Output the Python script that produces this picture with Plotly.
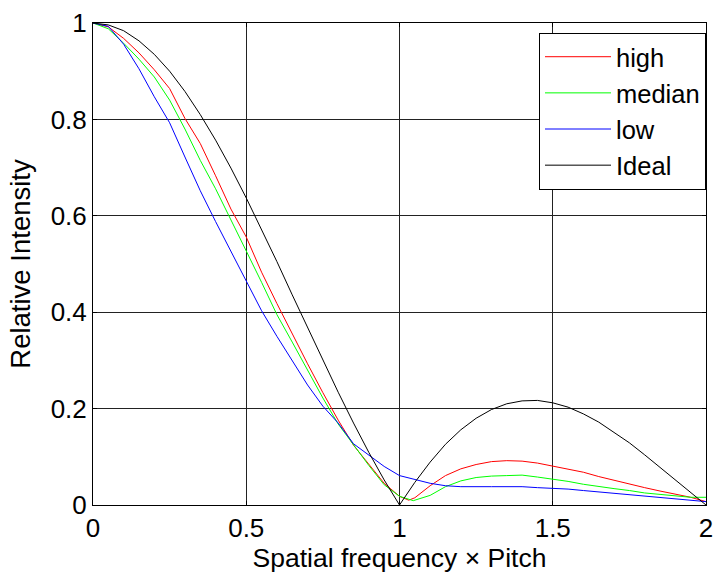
import plotly.graph_objects as go

# ---- data ----
x_high = [0, 0.05, 0.1, 0.15, 0.2, 0.25, 0.3, 0.35, 0.4, 0.45, 0.5, 0.55, 0.6, 0.65, 0.7, 0.75,
          0.8, 0.85, 0.9, 0.95, 1.0, 1.03, 1.05, 1.1, 1.15, 1.2, 1.25, 1.3, 1.35, 1.4, 1.45, 1.5,
          1.55, 1.6, 1.65, 1.7, 1.75, 1.8, 1.85, 1.9, 1.95, 2.0]
y_high = [1.0, 0.992, 0.968, 0.938, 0.903, 0.864, 0.802, 0.750, 0.683, 0.614, 0.556, 0.483, 0.418,
          0.355, 0.293, 0.233, 0.176, 0.124, 0.085, 0.045, 0.018, 0.010, 0.015, 0.040, 0.061,
          0.075, 0.084, 0.090, 0.092, 0.091, 0.087, 0.081, 0.075, 0.068, 0.059, 0.051, 0.044,
          0.036, 0.029, 0.022, 0.016, 0.007]

x_median = [0, 0.05, 0.1, 0.15, 0.2, 0.25, 0.3, 0.35, 0.4, 0.45, 0.5, 0.55, 0.6, 0.65, 0.7, 0.75,
            0.8, 0.85, 0.9, 0.95, 1.0, 1.045, 1.1, 1.15, 1.2, 1.25, 1.3, 1.35, 1.4, 1.45, 1.5,
            1.55, 1.6, 1.65, 1.7, 1.75, 1.8, 1.85, 1.9, 1.95, 2.0]
y_median = [1.0, 0.988, 0.958, 0.925, 0.888, 0.840, 0.780, 0.715, 0.656, 0.590, 0.527, 0.462,
            0.395, 0.338, 0.279, 0.222, 0.168, 0.124, 0.082, 0.042, 0.018, 0.009, 0.020, 0.038,
            0.050, 0.057, 0.060, 0.061, 0.062, 0.058, 0.054, 0.049, 0.043, 0.038, 0.034, 0.030,
            0.025, 0.022, 0.019, 0.016, 0.016]

x_low = [0, 0.05, 0.1, 0.15, 0.2, 0.25, 0.3, 0.35, 0.4, 0.45, 0.5, 0.55, 0.6, 0.65, 0.7, 0.75,
         0.8, 0.85, 0.9, 0.95, 1.0, 1.05, 1.1, 1.15, 1.2, 1.3, 1.4, 1.45, 1.5, 1.55, 1.6, 1.65,
         1.7, 1.75, 1.8, 1.85, 1.9, 1.95, 2.0]
y_low = [1.0, 0.993, 0.956, 0.905, 0.847, 0.793, 0.722, 0.652, 0.588, 0.526, 0.467, 0.403, 0.350,
         0.300, 0.249, 0.205, 0.170, 0.127, 0.103, 0.080, 0.061, 0.053, 0.045, 0.040, 0.038,
         0.038, 0.038, 0.036, 0.035, 0.033, 0.030, 0.027, 0.024, 0.021, 0.018, 0.015, 0.012,
         0.009, 0.007]

x_ideal = [0, 0.05, 0.1, 0.15, 0.2, 0.25, 0.3, 0.35, 0.4, 0.45, 0.5, 0.55, 0.6, 0.65, 0.7, 0.75,
           0.8, 0.85, 0.9, 0.95, 1.0, 1.05, 1.1, 1.15, 1.2, 1.25, 1.3, 1.35, 1.4, 1.45, 1.5,
           1.55, 1.6, 1.65, 1.7, 1.75, 1.8, 1.85, 1.9, 1.95, 2.0]
y_ideal = [1.0, 0.996, 0.984, 0.963, 0.935, 0.900, 0.858, 0.810, 0.757, 0.699, 0.637, 0.572,
           0.505, 0.436, 0.368, 0.300, 0.234, 0.170, 0.109, 0.052, 0.0, 0.047, 0.089, 0.126,
           0.156, 0.180, 0.198, 0.210, 0.216, 0.217, 0.212, 0.203, 0.189, 0.172, 0.151, 0.129,
           0.104, 0.078, 0.052, 0.025, 0.0]

x_ticks = [0, 0.5, 1, 1.5, 2]
x_tick_labels = ["0", "0.5", "1", "1.5", "2"]
y_ticks = [0, 0.2, 0.4, 0.6, 0.8, 1]
y_tick_labels = ["0", "0.2", "0.4", "0.6", "0.8", "1"]

series = [
    ("high", x_high, y_high, "#ff0000"),
    ("median", x_median, y_median, "#00ff00"),
    ("low", x_low, y_low, "#0000ff"),
    ("Ideal", x_ideal, y_ideal, "#000000"),
]

FONT = "Arial, Liberation Sans, sans-serif"

fig = go.Figure()
for name, xs, ys, color in series:
    fig.add_trace(go.Scatter(x=xs, y=ys, mode="lines", name=name,
                             line=dict(color=color, width=1)))

axis_common = dict(
    showline=True, linecolor="black", linewidth=1, mirror="ticks",
    showgrid=True, gridcolor="#222222", gridwidth=1,
    ticks="inside", ticklen=4, tickcolor="black",
    zeroline=False, tickfont=dict(family=FONT, size=26, color="black"),
)

fig.update_layout(
    width=721, height=575,
    paper_bgcolor="white", plot_bgcolor="white",
    margin=dict(l=93, r=8, t=21, b=70),
    font=dict(family=FONT, size=26, color="black"),
    xaxis=dict(range=[0, 2], tickvals=x_ticks, ticktext=x_tick_labels,
               title=dict(text="Spatial frequency \u00d7 Pitch", font=dict(size=26.5), standoff=4),
               **axis_common),
    yaxis=dict(range=[0, 1], tickvals=y_ticks, ticktext=y_tick_labels,
               title=dict(text="Relative Intensity", font=dict(size=27.5), standoff=12),
               **axis_common),
    legend=dict(x=1.0, y=0.98, xanchor="right", yanchor="top",
                bgcolor="white", bordercolor="black", borderwidth=1,
                font=dict(family=FONT, size=25.5, color="black"),
                itemwidth=66, tracegroupgap=0),
    showlegend=True,
)

fig.write_html("out.html", config={"displayModeBar": False},
               post_script="document.body.style.margin='0px';document.body.style.overflow='hidden';")
